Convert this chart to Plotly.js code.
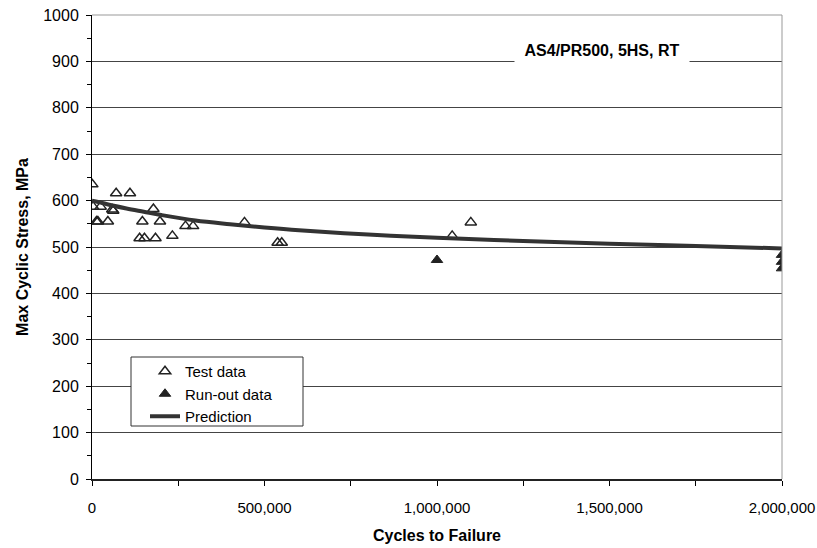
<!DOCTYPE html>
<html>
<head>
<meta charset="utf-8">
<script src="https://cdn.plot.ly/plotly-3.0.1.min.js"></script>
<style>html,body{margin:0;padding:0;background:#fff;}#chart{width:817px;height:548px;}</style>
</head>
<body>
<div id="chart"></div>
<script>
// Test data (cycles, MPa)
var testCycles = [1000, 70000, 110000, 3000, 25000, 58700, 61600, 13000, 17000, 46000, 178000, 146000, 197000, 138000, 152000, 184000, 233000, 271000, 293000, 442000, 538000, 550000, 1044000, 1098000];
var testStress = [635, 616, 616, 587, 587, 581, 578, 555, 555, 555, 582, 555, 555, 519, 519, 519, 524, 545, 545, 553, 509, 509, 524, 553];
// Run-out data
var runCycles = [1000000, 2000000, 2000000, 2000000];
var runStress = [472, 483, 468, 454];
// Prediction curve
var predCycles = [0, 25000, 50000, 100000, 150000, 200000, 300000, 400000, 500000, 600000, 800000, 1000000, 1250000, 1500000, 1750000, 2000000];
var predStress = [600, 596, 591, 583, 576, 569, 557, 549, 542, 536, 527, 520, 513, 507, 502, 497];

var font = 'Liberation Sans, Arial, sans-serif';
var data = [
  {x: testCycles, y: testStress, type: 'scatter', mode: 'markers', name: 'Test data',
   marker: {symbol: 'triangle-up-open', size: 10, color: '#222', line: {width: 1.5, color: '#222'}}},
  {x: runCycles, y: runStress, type: 'scatter', mode: 'markers', name: 'Run-out data',
   marker: {symbol: 'triangle-up', size: 10, color: '#222', line: {width: 1, color: '#222'}}},
  {x: predCycles, y: predStress, type: 'scatter', mode: 'lines', name: 'Prediction',
   line: {color: '#333', width: 4, shape: 'spline'}}
];
var L = 92, R = 782, T = 15, B = 479;
function px2paperX(p) { return (p - L) / (R - L); }
function px2paperY(p) { return (B - p) / (B - T); }
var layout = {
  width: 817, height: 548,
  margin: {l: L, r: 817 - R, t: T, b: 548 - B},
  paper_bgcolor: '#fff', plot_bgcolor: '#fff',
  font: {family: font, color: '#000', size: 16},
  showlegend: true,
  legend: {x: px2paperX(145), y: px2paperY(355), xanchor: 'left', yanchor: 'top', bgcolor: 'rgba(0,0,0,0)',
           borderwidth: 0, font: {size: 15, family: font}},
  xaxis: {range: [0, 2000000], dtick: 500000, tickformat: ',d', showgrid: false, zeroline: false,
          showline: true, linecolor: '#222', linewidth: 1.5, ticks: 'outside', ticklen: 5, tickcolor: '#000',
          ticklabelstandoff: 9, tickfont: {size: 15}, ticklabeloverflow: 'allow',
          minor: {dtick: 250000, ticks: 'outside', ticklen: 5, tickcolor: '#000', showgrid: false},
          title: {text: '<b>Cycles to Failure</b>', font: {size: 16, family: font}, standoff: 15}},
  yaxis: {range: [0, 1000], dtick: 100, showgrid: true, gridcolor: '#444', gridwidth: 1, zeroline: false,
          showline: true, linecolor: '#000', linewidth: 1, ticks: 'outside', ticklen: 5, tickcolor: '#000',
          ticklabelstandoff: 4, tickfont: {size: 16},
          minor: {dtick: 50, ticks: 'outside', ticklen: 4, tickcolor: '#000', showgrid: false},
          title: {text: '<b>Max Cyclic Stress, MPa</b>', font: {size: 16, family: font}, standoff: 10}},
  shapes: [
    {type: 'line', xref: 'paper', yref: 'paper', x0: 0, x1: 1, y0: 1, y1: 1, line: {color: '#999', width: 1}},
    {type: 'line', xref: 'paper', yref: 'paper', x0: 1, x1: 1, y0: 0, y1: 1, line: {color: '#999', width: 1}},
    {type: 'rect', xref: 'paper', yref: 'paper', layer: 'above',
     x0: px2paperX(131), x1: px2paperX(303), y0: px2paperY(426), y1: px2paperY(357),
     fillcolor: '#fff', line: {color: '#333', width: 1}}
  ],
  annotations: [
    {xref: 'paper', yref: 'paper', x: px2paperX(602), y: px2paperY(50), xanchor: 'center', yanchor: 'middle',
     text: '<b>AS4/PR500, 5HS, RT</b>', showarrow: false, bgcolor: '#fff', width: 172, height: 26,
     font: {size: 16, family: font, color: '#000'}}
  ]
};
Plotly.newPlot('chart', data, layout, {displayModeBar: false, staticPlot: true});
</script>
</body>
</html>
